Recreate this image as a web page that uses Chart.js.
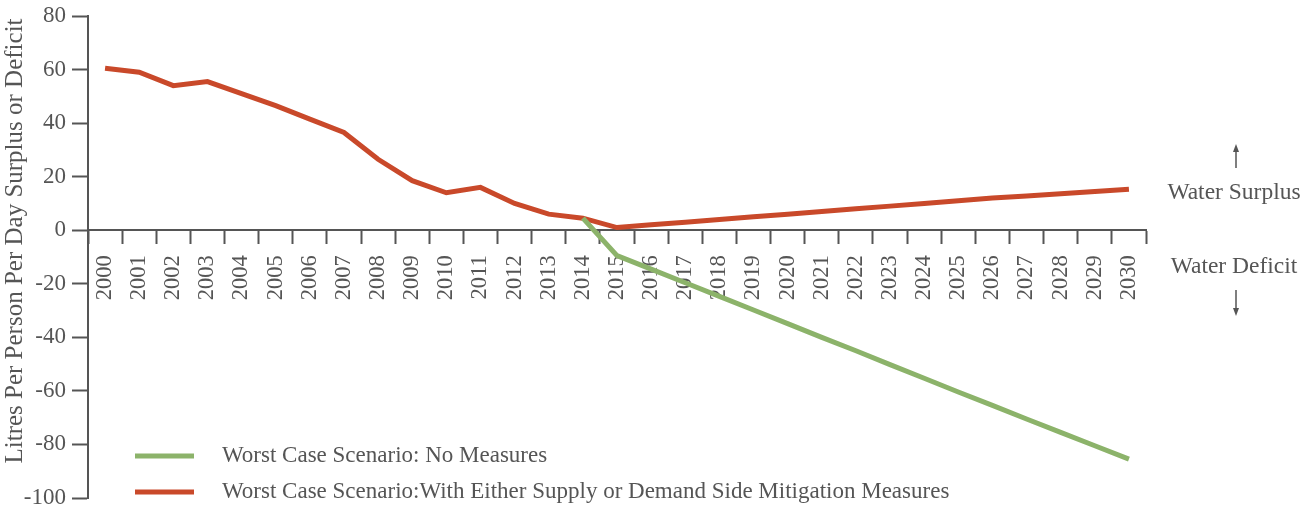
<!DOCTYPE html>
<html>
<head>
<meta charset="utf-8">
<style>
  body { margin: 0; background: #fff; }
  #wrap { width: 1302px; height: 506px; }
</style>
</head>
<body>
<div id="wrap"><canvas id="waterChart" width="1302" height="506"></canvas></div>

<script src="https://cdn.jsdelivr.net/npm/chart.js"></script>
<script>
    // years on the x axis
    const years = ['2000', '2001', '2002', '2003', '2004', '2005', '2006', '2007', '2008', '2009',
        '2010', '2011', '2012', '2013', '2014', '2015', '2016', '2017', '2018', '2019',
        '2020', '2021', '2022', '2023', '2024', '2025', '2026', '2027', '2028', '2029', '2030'];

    // worst case, no measures (branches off in 2014)
    const noMeasures = [null, null, null, null, null, null, null, null, null, null,
        null, null, null, null, 4.5, -9.5, -14.5, -19.6, -24.7, -29.8,
        -34.9, -40, -45, -50.2, -55.3, -60.4, -65.4, -70.5, -75.5, -80.5, -85.5];

    // worst case with supply or demand side mitigation
    const withMitigation = [60.5, 59, 54, 55.5, 51, 46.5, 41.5, 36.5, 26.5, 18.5,
        14, 16, 10, 6, 4.5, 1, 2, 3, 4, 5,
        6, 7, 8, 9, 10, 11, 12, 12.8, 13.6, 14.5, 15.3];

    const yTicks = [-100, -80, -60, -40, -20, 0, 20, 40, 60, 80];

    const seriesNames = ['Worst Case Scenario: No Measures',
        'Worst Case Scenario:With Either Supply or Demand Side Mitigation Measures'];

    const GREEN = '#8cb36a';
    const RED = '#c9492a';
    const GREY = '#555555';
    const SERIF = '"Liberation Serif", "DejaVu Serif", serif';

    // y title, legend and the surplus / deficit notes
    const extras = {
        id: 'extras',
        afterDraw(chart) {
            const ctx = chart.ctx;
            ctx.save();
            ctx.fillStyle = GREY;

            // axis title
            ctx.save();
            ctx.font = '25px ' + SERIF;
            ctx.translate(15, 241);
            ctx.rotate(-Math.PI / 2);
            ctx.textAlign = 'center';
            ctx.textBaseline = 'middle';
            ctx.fillText('Litres Per Person Per Day Surplus or Deficit', 0, 0);
            ctx.restore();

            // legend
            const colors = [GREEN, RED];
            const rows = [456, 492];
            ctx.textAlign = 'left';
            ctx.textBaseline = 'middle';
            ctx.font = '23px ' + SERIF;
            for (let i = 0; i < 2; i++) {
                ctx.strokeStyle = colors[i];
                ctx.lineWidth = 5;
                ctx.beginPath();
                ctx.moveTo(135, rows[i]);
                ctx.lineTo(194, rows[i]);
                ctx.stroke();
                ctx.fillText(seriesNames[i], 222, rows[i]);
            }

            // right hand notes
            ctx.textAlign = 'center';
            ctx.font = '23.5px ' + SERIF;
            ctx.fillText('Water Surplus', 1234, 193);
            ctx.fillText('Water Deficit', 1234, 267);

            ctx.strokeStyle = GREY;
            ctx.lineWidth = 1.5;
            ctx.beginPath();
            ctx.moveTo(1236, 168); ctx.lineTo(1236, 148);
            ctx.moveTo(1236, 290); ctx.lineTo(1236, 311);
            ctx.stroke();
            ctx.beginPath();
            ctx.moveTo(1233, 152); ctx.lineTo(1236, 144); ctx.lineTo(1239, 152); ctx.closePath();
            ctx.moveTo(1233, 308); ctx.lineTo(1236, 316); ctx.lineTo(1239, 308); ctx.closePath();
            ctx.fill();
            ctx.restore();
        }
    };

    const ctx = document.getElementById('waterChart').getContext('2d');
    const waterChart = new Chart(ctx, {
        type: 'line',
        data: {
            labels: years,
            datasets: [
                {
                    label: seriesNames[0],
                    data: noMeasures,
                    borderColor: GREEN,
                    borderWidth: 5,
                    pointRadius: 0,
                    tension: 0,
                    spanGaps: false
                },
                {
                    label: seriesNames[1],
                    data: withMitigation,
                    borderColor: RED,
                    borderWidth: 5,
                    pointRadius: 0,
                    tension: 0
                }
            ]
        },
        options: {
            responsive: false,
            animation: false,
            layout: { padding: { left: 0, right: 156, top: 0, bottom: 0 } },
            plugins: {
                legend: { display: false },
                tooltip: { enabled: false }
            },
            scales: {
                x: {
                    position: { y: 0 },
                    offset: true,
                    grid: {
                        offset: true,
                        drawOnChartArea: false,
                        tickLength: 13,
                        tickColor: GREY,
                        tickWidth: 2
                    },
                    border: { color: GREY, width: 2 },
                    ticks: {
                        minRotation: 90,
                        maxRotation: 90,
                        autoSkip: false,
                        padding: 12,
                        color: GREY,
                        font: { family: SERIF, size: 22.5 }
                    },
                    afterFit(scale) {
                        scale.paddingLeft = 0;
                        scale.paddingRight = 0;
                        scale.paddingTop = 0;
                        scale.paddingBottom = 0;
                    }
                },
                y: {
                    min: -100,
                    max: 80,
                    afterBuildTicks(scale) {
                        scale.ticks = yTicks.map(v => ({ value: v }));
                    },
                    grid: {
                        drawOnChartArea: false,
                        tickLength: 16,
                        tickColor: GREY,
                        tickWidth: 2
                    },
                    border: { color: GREY, width: 2 },
                    ticks: {
                        padding: 6,
                        color: GREY,
                        font: { family: SERIF, size: 23 }
                    },
                    afterFit(scale) {
                        scale.width = 88;
                        scale.paddingTop = 16;
                        scale.paddingBottom = 8;
                    }
                }
            }
        },
        plugins: [extras]
    });
</script>
</body>
</html>
